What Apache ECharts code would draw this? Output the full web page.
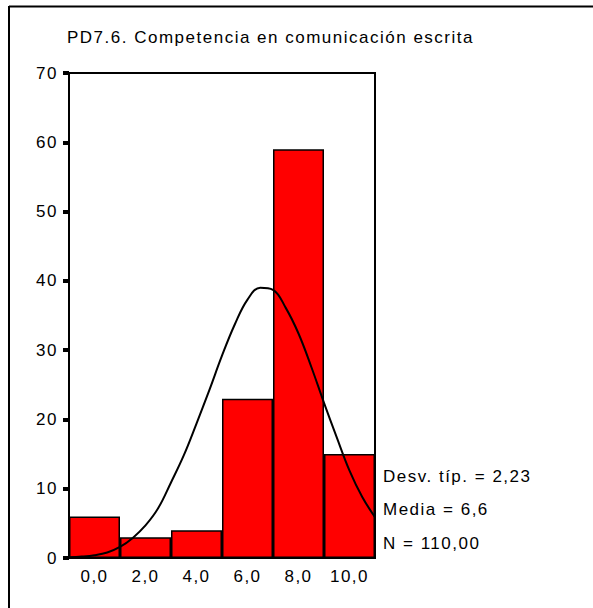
<!DOCTYPE html>
<html>
<head>
<meta charset="utf-8">
<script src="https://cdn.jsdelivr.net/npm/echarts@6/dist/echarts.min.js"></script>
<style>
  html, body { margin: 0; padding: 0; background: #fff; }
  #chart { width: 593px; height: 608px; }
  /* SPSS-style loosely spaced text */
  #chart text { letter-spacing: 1.5px; }
</style>
</head>
<body>
<div id="chart"></div>
<script>
// Histogram bins (bin centres) and their counts
const categories = ['0,0', '2,0', '4,0', '6,0', '8,0', '10,0'];
const counts = [6, 3, 4, 23, 59, 15];

// Normal curve overlay, sampled along the score axis
const curveX = [-1, -0.5, 0, 0.5, 1, 1.5, 2, 2.5, 3, 3.5, 4, 4.5, 5, 5.5, 6, 6.5, 7, 7.5, 8, 8.5, 9, 9.5, 10, 10.5, 11];
const curveY = [0.1, 0.2, 0.4, 0.8, 1.6, 2.9, 4.7, 7.2, 10.9, 14.8, 19.4, 24.2, 29.2, 33.7, 37.3, 39.0, 38.7, 36.1, 32.4, 27.6, 22.4, 17.4, 12.6, 8.8, 5.9];

// Y axis range
const yMin = 0, yMax = 70, yStep = 10;

// Titles and summary statistics
const titleText = 'PD7.6. Competencia en comunicación escrita';
const statLines = ['Desv. típ. = 2,23', 'Media = 6,6', 'N = 110,00'];

const FONT = "'Liberation Sans', Arial, sans-serif";

const chart = echarts.init(document.getElementById('chart'), null, { renderer: 'svg' });

const curveData = curveX.map((x, i) => [x, curveY[i]]);

chart.setOption({
  animation: false,
  backgroundColor: '#fff',
  grid: {
    left: 69, right: 218, top: 73, bottom: 50,
    show: true, borderColor: '#000', borderWidth: 2, backgroundColor: 'transparent'
  },
  xAxis: [
    {
      type: 'category',
      data: categories,
      boundaryGap: true,
      axisLine: { lineStyle: { color: '#000', width: 2 } },
      axisTick: { alignWithLabel: true, length: 5, lineStyle: { color: '#000', width: 7 } },
      axisLabel: { color: '#000', fontFamily: FONT, fontSize: 17, margin: 10 },
      splitLine: { show: false }
    },
    {
      type: 'value',
      min: -1, max: 11,
      show: false,
      splitLine: { show: false }
    }
  ],
  yAxis: {
    type: 'value',
    min: yMin, max: yMax, interval: yStep,
    axisLine: { show: true, onZero: false, lineStyle: { color: '#000', width: 2 } },
    axisTick: { show: true, length: 6, lineStyle: { color: '#000', width: 4 } },
    axisLabel: { color: '#000', fontFamily: FONT, fontSize: 17, margin: 11 },
    splitLine: { show: false }
  },
  series: [
    {
      type: 'bar',
      data: counts,
      barWidth: '100%',
      barCategoryGap: 0,
      itemStyle: { color: '#ff0000', borderColor: '#000', borderWidth: 1.5 },
      z: 2
    },
    {
      type: 'line',
      xAxisIndex: 1,
      data: curveData,
      smooth: 0.4,
      showSymbol: false,
      lineStyle: { color: '#000', width: 2 },
      z: 3
    }
  ],
  graphic: [
    // outer frame (top and left edges)
    { type: 'line', shape: { x1: 9, y1: 6.5, x2: 593, y2: 6.5 }, style: { stroke: '#000', lineWidth: 2 } },
    { type: 'line', shape: { x1: 9, y1: 6, x2: 9, y2: 608 }, style: { stroke: '#000', lineWidth: 2 } },
    {
      type: 'text', left: 67, top: 29,
      style: { text: titleText, font: '17px ' + FONT, fill: '#000' }
    },
    {
      type: 'text', left: 383, top: 468,
      style: { text: statLines[0], font: '17px ' + FONT, fill: '#000' }
    },
    {
      type: 'text', left: 383, top: 501,
      style: { text: statLines[1], font: '17px ' + FONT, fill: '#000' }
    },
    {
      type: 'text', left: 383, top: 535,
      style: { text: statLines[2], font: '17px ' + FONT, fill: '#000' }
    }
  ]
});
</script>
</body>
</html>
